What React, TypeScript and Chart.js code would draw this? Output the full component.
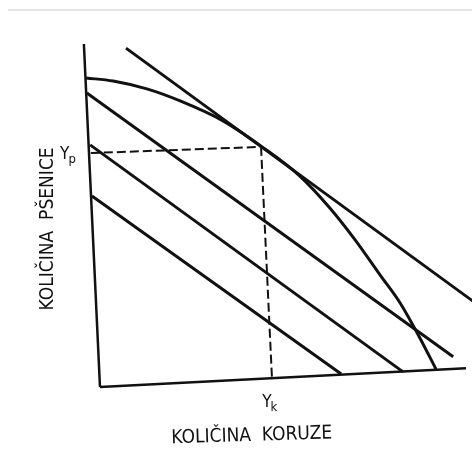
import React, { useEffect, useRef } from "react";
import { Chart, registerables } from "chart.js";

Chart.register(...registerables);

// Axes of the diagram (data units: 0..100 along each axis)
const xAxisX = [0, 100];
const xAxisY = [0, 5.5];
const yAxisX = [-4.4, 0];
const yAxisY = [100, 0];

// Production possibility frontier
const ppfX = [-3.8, 3.6, 12.8, 21.9, 33.6, 44.3, 54.6, 62.8, 69.7, 76.5, 82.0, 87.4, 91.8];
const ppfY = [90.1, 89.2, 86.9, 83.4, 77.6, 70.0, 61.5, 52.2, 42.9, 32.7, 24.5, 14.3, 5.2];

// Iso-revenue lines
const topLineX = [7.1, 105];
const topLineY = [98.8, 22.6];
const lineAX = [-3.6, 96.5];
const lineAY = [85.7, 8.8];
const lineBX = [-2.7, 82.8];
const lineBY = [70.6, 4.4];
const lineCX = [-2.2, 65.9];
const lineCY = [55.7, 3.8];

// Dashed guides to the optimum
const ypGuideX = [-2.5, 44.0];
const ypGuideY = [68.2, 70.0];
const ykGuideX = [44.0, 47.0];
const ykGuideY = [70.0, 2.3];

// Labels
const markMain = ["Y", "Y"];
const markSub = ["p", "k"];
const markX = [-10.9, 44.3];
const markY = [66.5, -5.8];
const xTitle = "KOLIČINA KORUZE";
const xTitleX = 41.5;
const xTitleY = -15.7;
const yTitle = "KOLIČINA PŠENICE";
const yTitleX = -14.2;
const yTitleY = 46.1;

const pts = (xs: number[], ys: number[]) => xs.map((x, i) => ({ x, y: ys[i] }));

const FONT = '"Liberation Sans Narrow", "DejaVu Sans Condensed", "Liberation Sans", sans-serif';

const labelPlugin = {
  id: "diagramLabels",
  afterDatasetsDraw(chart: any) {
    const { ctx, scales } = chart;
    const sx = scales.x;
    const sy = scales.y;
    ctx.save();
    ctx.fillStyle = "#111";
    // Y_p and Y_k
    for (let i = 0; i < markMain.length; i++) {
      const px = sx.getPixelForValue(markX[i]);
      const py = sy.getPixelForValue(markY[i]);
      ctx.font = `17px ${FONT}`;
      ctx.textAlign = "left";
      ctx.textBaseline = "alphabetic";
      ctx.fillText(markMain[i], px, py);
      const w = ctx.measureText(markMain[i]).width;
      ctx.font = `13px ${FONT}`;
      ctx.fillText(markSub[i], px + w - 1, py + 4);
    }
    // x title
    ctx.font = `19px ${FONT}`;
    ctx.save();
    ctx.translate(sx.getPixelForValue(xTitleX), sy.getPixelForValue(xTitleY));
    ctx.rotate(-0.03);
    ctx.textAlign = "center";
    ctx.textBaseline = "alphabetic";
    ctx.fillText(xTitle.replace(" ", "  "), 0, 0);
    ctx.restore();
    // y title
    ctx.save();
    ctx.translate(sx.getPixelForValue(yTitleX), sy.getPixelForValue(yTitleY));
    ctx.rotate(-Math.PI / 2);
    ctx.textAlign = "center";
    ctx.textBaseline = "middle";
    ctx.fillText(yTitle.replace(" ", "  "), 0, 0);
    ctx.restore();
    ctx.restore();
  },
};

export default function App() {
  const ref = useRef<HTMLCanvasElement | null>(null);

  useEffect(() => {
    if (!ref.current) return;
    const solid = (data: any[], width: number, extra: any = {}) => ({
      data,
      showLine: true,
      borderColor: "#111",
      borderWidth: width,
      pointRadius: 0,
      pointHoverRadius: 0,
      fill: false,
      ...extra,
    });
    const chart = new Chart(ref.current, {
      type: "scatter",
      data: {
        datasets: [
          solid(pts(xAxisX, xAxisY), 2.5),
          solid(pts(yAxisX, yAxisY), 2.5),
          solid(pts(ypGuideX, ypGuideY), 2, { borderDash: [9, 4] }),
          solid(pts(ykGuideX, ykGuideY), 2, { borderDash: [9, 4] }),
          solid(pts(ppfX, ppfY), 3, { cubicInterpolationMode: "monotone" }),
          solid(pts(topLineX, topLineY), 3),
          solid(pts(lineAX, lineAY), 3),
          solid(pts(lineBX, lineBY), 3),
          solid(pts(lineCX, lineCY), 3),
        ] as any,
      },
      options: {
        animation: false,
        responsive: false,
        maintainAspectRatio: false,
        devicePixelRatio: 1,
        layout: { padding: 0 },
        plugins: {
          legend: { display: false },
          tooltip: { enabled: false },
          title: { display: false },
        },
        events: [],
        scales: {
          x: { type: "linear", display: false, min: -27.32, max: 101.64 },
          y: { type: "linear", display: false, min: -22.16, max: 112.83 },
        },
      },
      plugins: [labelPlugin],
    });
    return () => chart.destroy();
  }, []);

  return (
    <div style={{ position: "fixed", left: 0, top: 0, width: 472, height: 463, background: "#fff" }}>
      <div style={{ position: "absolute", left: 8, top: 9, width: 464, height: 2, background: "#e3e3e3" }} />
      <canvas ref={ref} width={472} height={463} style={{ position: "absolute", left: 0, top: 0 }} />
    </div>
  );
}
